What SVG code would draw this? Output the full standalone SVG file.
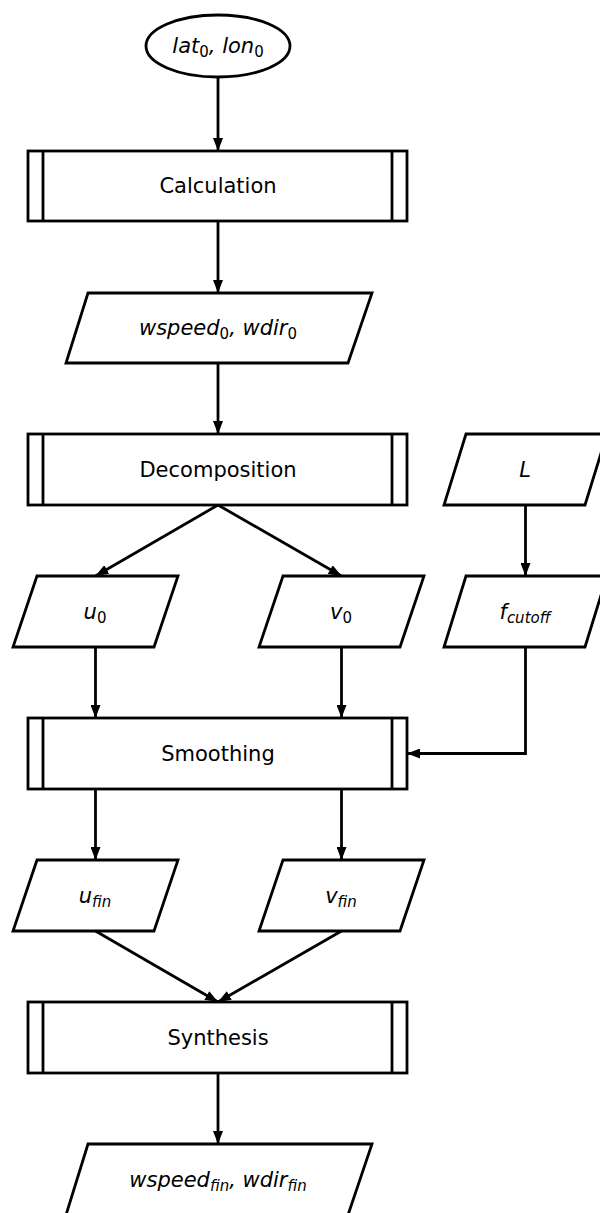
<svg xmlns="http://www.w3.org/2000/svg" width="600" height="1213" viewBox="0 0 600 1213">
<defs>
<style>
.s{fill:#fff;stroke:#000;stroke-width:2.8}
.l{fill:none;stroke:#000;stroke-width:2.8}
.c{fill:none;stroke:#000;stroke-width:2.8}
text{font-family:"DejaVu Sans","Liberation Sans",sans-serif;font-size:21px;fill:#000;text-anchor:middle}
.m{font-style:italic}
.sb{font-size:15px;font-style:normal}
.si{font-size:15px;font-style:italic}
</style>
<marker id="ah" viewBox="0 0 13 10" refX="13" refY="5" markerWidth="13" markerHeight="10" markerUnits="userSpaceOnUse" orient="auto">
<path d="M0,0 L13,5 L0,10 z" fill="#000"/>
</marker>
</defs>
<rect width="600" height="1213" fill="#fff"/>
<g id="connectors">
<line class="c" x1="218" y1="77" x2="218" y2="151" marker-end="url(#ah)"/>
<line class="c" x1="218" y1="221" x2="218" y2="293" marker-end="url(#ah)"/>
<line class="c" x1="218" y1="363" x2="218" y2="434" marker-end="url(#ah)"/>
<line class="c" x1="218" y1="505" x2="95.5" y2="576" marker-end="url(#ah)"/>
<line class="c" x1="218" y1="505" x2="341.5" y2="576" marker-end="url(#ah)"/>
<line class="c" x1="525.5" y1="505" x2="525.5" y2="576" marker-end="url(#ah)"/>
<line class="c" x1="95.5" y1="647" x2="95.5" y2="718" marker-end="url(#ah)"/>
<line class="c" x1="341.5" y1="647" x2="341.5" y2="718" marker-end="url(#ah)"/>
<polyline class="c" points="525.5,647 525.5,753.5 407,753.5" marker-end="url(#ah)"/>
<line class="c" x1="95.5" y1="789" x2="95.5" y2="860" marker-end="url(#ah)"/>
<line class="c" x1="341.5" y1="789" x2="341.5" y2="860" marker-end="url(#ah)"/>
<line class="c" x1="95.5" y1="931" x2="218" y2="1002" marker-end="url(#ah)"/>
<line class="c" x1="341.5" y1="931" x2="218" y2="1002" marker-end="url(#ah)"/>
<line class="c" x1="218" y1="1073" x2="218" y2="1144" marker-end="url(#ah)"/>
</g>
<g id="start">
<ellipse class="s" cx="218" cy="46" rx="72" ry="31"/>
<text x="218" y="53" class="m">lat<tspan class="sb" dy="4">0</tspan><tspan dy="-4">, lon</tspan><tspan class="sb" dy="4">0</tspan></text>
</g>
<g id="calculation">
<rect class="s" x="28" y="151" width="379" height="70"/>
<line class="l" x1="43" y1="151" x2="43" y2="221"/>
<line class="l" x1="392" y1="151" x2="392" y2="221"/>
<text x="218" y="193">Calculation</text>
</g>
<g id="wind0">
<polygon class="s" points="88,293 372,293 348,363 66,363"/>
<text x="218" y="335" class="m">wspeed<tspan class="sb" dy="4">0</tspan><tspan dy="-4">, wdir</tspan><tspan class="sb" dy="4">0</tspan></text>
</g>
<g id="decomposition">
<rect class="s" x="28" y="434" width="379" height="71"/>
<line class="l" x1="43" y1="434" x2="43" y2="505"/>
<line class="l" x1="392" y1="434" x2="392" y2="505"/>
<text x="218" y="477">Decomposition</text>
</g>
<g id="L">
<polygon class="s" points="466,434 607,434 585,505 444,505"/>
<text x="525" y="477" class="m">L</text>
</g>
<g id="u0">
<polygon class="s" points="37,576 178,576 154,647 13,647"/>
<text x="95" y="619" class="m">u<tspan class="sb" dy="4">0</tspan></text>
</g>
<g id="v0">
<polygon class="s" points="283,576 424,576 400,647 259,647"/>
<text x="341" y="619" class="m">v<tspan class="sb" dy="4">0</tspan></text>
</g>
<g id="fcutoff">
<polygon class="s" points="466,576 607,576 585,647 444,647"/>
<text x="525" y="619" class="m">f<tspan class="si" dy="4">cutoff</tspan></text>
</g>
<g id="smoothing">
<rect class="s" x="28" y="718" width="379" height="71"/>
<line class="l" x1="43" y1="718" x2="43" y2="789"/>
<line class="l" x1="392" y1="718" x2="392" y2="789"/>
<text x="218" y="761">Smoothing</text>
</g>
<g id="ufin">
<polygon class="s" points="37,860 178,860 154,931 13,931"/>
<text x="95" y="903" class="m">u<tspan class="si" dy="4">fin</tspan></text>
</g>
<g id="vfin">
<polygon class="s" points="283,860 424,860 400,931 259,931"/>
<text x="341" y="903" class="m">v<tspan class="si" dy="4">fin</tspan></text>
</g>
<g id="synthesis">
<rect class="s" x="28" y="1002" width="379" height="71"/>
<line class="l" x1="43" y1="1002" x2="43" y2="1073"/>
<line class="l" x1="392" y1="1002" x2="392" y2="1073"/>
<text x="218" y="1045">Synthesis</text>
</g>
<g id="windfin">
<polygon class="s" points="88,1144 372,1144 348,1215 66,1215"/>
<text x="218" y="1187" class="m">wspeed<tspan class="si" dy="4">fin</tspan><tspan dy="-4">, wdir</tspan><tspan class="si" dy="4">fin</tspan></text>
</g>
</svg>
